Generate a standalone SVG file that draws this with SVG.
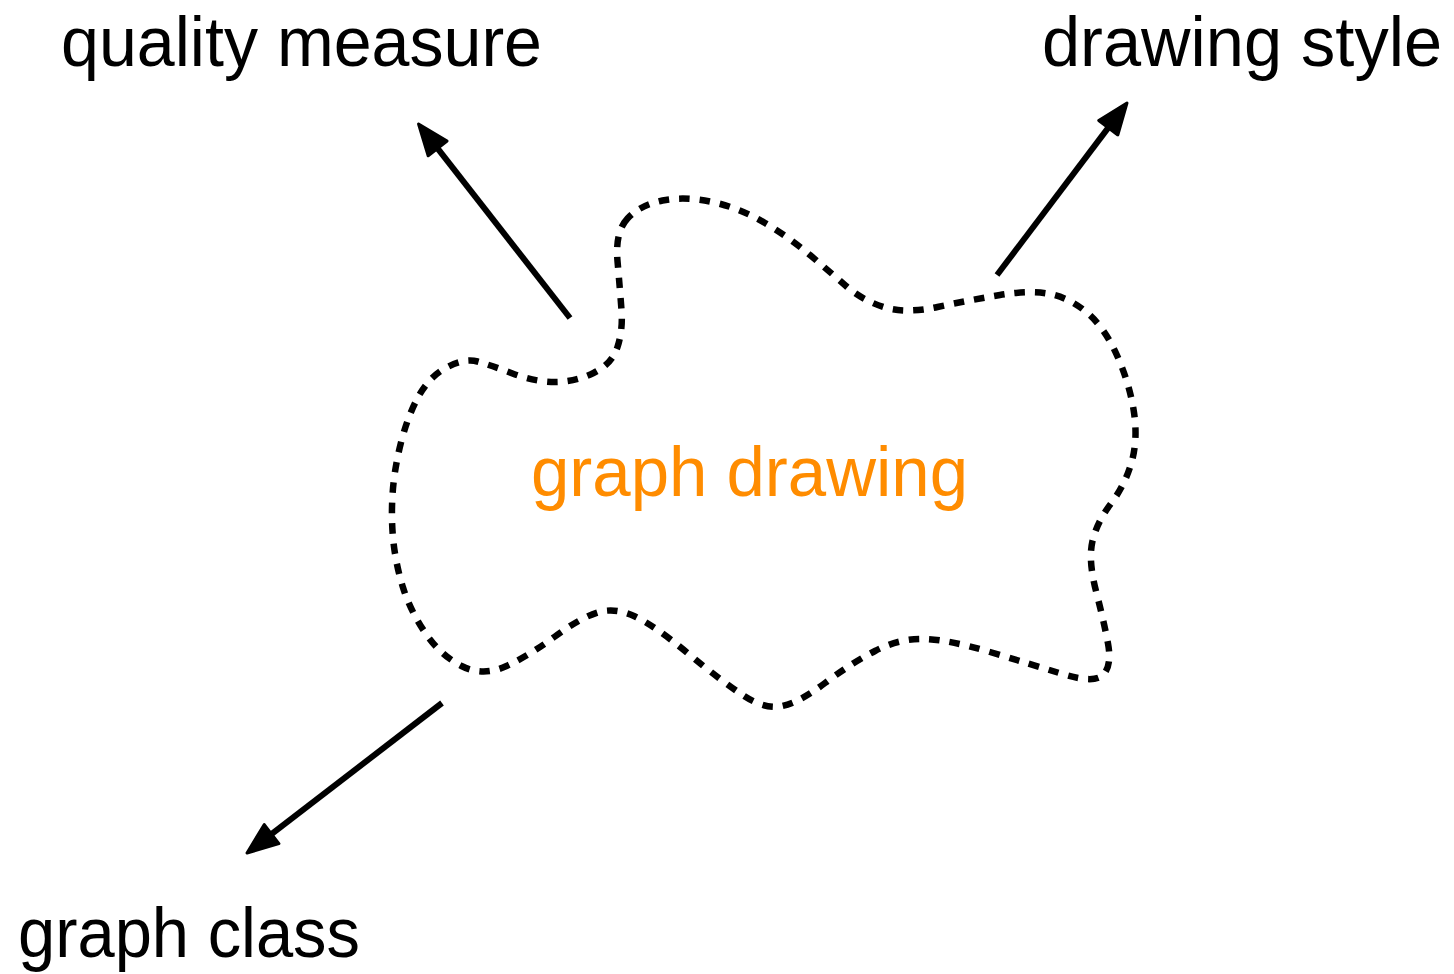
<svg xmlns="http://www.w3.org/2000/svg" width="1454" height="974" viewBox="0 0 1454 974">
<style>
  .lbl { font-family: "Liberation Sans", Arial, sans-serif; font-size: 70px; fill: #000; }
  .center { font-family: "Liberation Sans", Arial, sans-serif; font-size: 70px; fill: #FF8C00; }
  .arrow { stroke: #000; stroke-width: 6; fill: none; marker-end: url(#head); }
  .blob { stroke: #000; stroke-width: 6.5; fill: none; stroke-dasharray: 10.5 10; }
</style>
<defs>
  <marker id="head" markerUnits="userSpaceOnUse" markerWidth="40" markerHeight="40" viewBox="-4 -16 40 32" refX="0" refY="0" orient="auto">
    <path d="M-1,-12 L30,0 L-1,12 Z" fill="#000" stroke="#000" stroke-width="3" stroke-linejoin="round"/>
  </marker>
</defs>
<rect width="1454" height="974" fill="#fff"/>
<g id="region">
  <path class="blob" d="M627.5,218.5 Q615,232 617.5,261 Q620,290 621.5,310 Q623,330 617.5,347 Q612,364 593.5,373 Q575,382 555,382 Q535,382 512.5,373.5 Q490,365 477.5,361.5 Q465,358 447.5,367 Q430,376 419,395.5 Q408,415 401,442.5 Q394,470 392.5,495 Q391,520 393.5,542.5 Q396,565 403,587.5 Q410,610 425,632.5 Q440,655 461.5,666 Q483,677 506.5,666 Q530,655 555,636.5 Q580,618 597.5,612.5 Q615,607 635,616.5 Q655,626 687.5,653 Q720,680 742.5,695 Q765,710 782.5,706 Q800,702 825,683 Q850,664 875,651 Q900,638 925,639 Q950,640 990,652 Q1030,664 1062.5,674 Q1095,684 1103.5,674.5 Q1112,665 1108,643.5 Q1104,622 1096,591 Q1088,560 1092.5,541 Q1097,522 1111,503.5 Q1125,485 1131.5,462.5 Q1138,440 1134,412.5 Q1130,385 1117.5,356.5 Q1105,328 1087.5,313 Q1070,298 1050,294 Q1030,290 1000,295 Q970,300 937.5,307 Q905,314 883.5,307 Q862,300 846,286 Q830,272 810,255 Q790,238 765,223 Q740,208 712.5,202 Q685,196 662.5,200.5 Q640,205 627.5,218.5 Z"/>
  <text class="center" x="531" y="496" textLength="437" lengthAdjust="spacingAndGlyphs">graph drawing</text>
</g>
<g id="quality-measure">
  <text class="lbl" x="61" y="66" textLength="481" lengthAdjust="spacingAndGlyphs">quality measure</text>
</g>
<g id="drawing-style">
  <text class="lbl" x="1042" y="66" textLength="400" lengthAdjust="spacingAndGlyphs">drawing style</text>
</g>
<g id="graph-class">
  <text class="lbl" x="18" y="957" textLength="342" lengthAdjust="spacingAndGlyphs">graph class</text>
</g>
<g id="connectors">
  <line class="arrow" x1="570" y1="318" x2="437" y2="147.6"/>
  <line class="arrow" x1="997" y1="275" x2="1108.9" y2="126.9"/>
  <line class="arrow" x1="442" y1="703" x2="270.8" y2="834.7"/>
</g>
</svg>
